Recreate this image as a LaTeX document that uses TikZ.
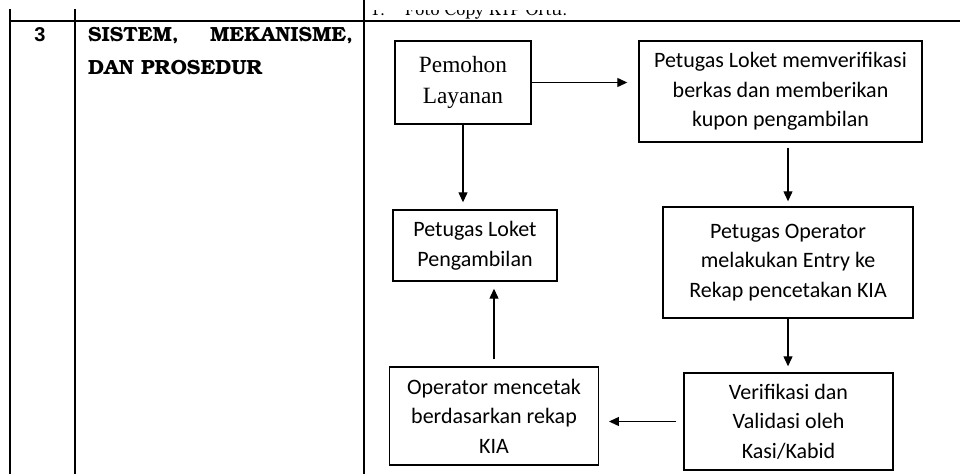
\documentclass[tikz,border=0pt]{standalone}
\usepackage[T1]{fontenc}
\usepackage{fontspec}
\setmainfont{Liberation Serif}
\newfontfamily\calibri{Carlito}
\newfontfamily\arialfont{Liberation Sans}
\newcommand\bookman{\fontencoding{T1}\fontfamily{pbk}\selectfont}
\newcommand\headfont{\bookman\fontseries{b}\selectfont\fontsize{20.5}{24}\selectfont}
\usetikzlibrary{arrows.meta}
\tikzset{
    box/.style={draw, line width=1.4pt, inner sep=0pt, align=center, font=\calibri\fontsize{22}{29.5}\selectfont}, % kotak alur
    flow/.style={-{Triangle[length=10pt, width=9pt]}, line width=1.2pt}, % panah alur
    tabline/.style={line width=1.6pt} % garis tabel
}

\begin{document}
\begin{tikzpicture}[x=1pt, y=-1pt]
    \def\colA{10} \def\colB{75} \def\colC{364} \def\rowtop{20.7}
    \useasboundingbox (0,0) rectangle (960,474);

    % garis tabel
    \draw[tabline] (\colA,\rowtop) -- (960,\rowtop);
    \draw[tabline] (\colA,9) -- (\colA,474);
    \draw[tabline] (\colB,9) -- (\colB,474);
    \draw[tabline] (\colC,0) -- (\colC,474);

    % baris sebelumnya, terpotong
    \begin{scope}
        \clip (\colC+2,10) rectangle (960,19);
        \node[anchor=base west, inner sep=0pt, font=\bookman\fontsize{16}{18}\selectfont] (prev) at (370,15) {1.\hspace{20pt}Foto Copy KTP Ortu.};
    \end{scope}

    \node[font=\arialfont\bfseries\fontsize{20}{24}\selectfont] (nomor) at (40,35) {3};
    \node[anchor=base west, inner sep=0pt, font=\headfont] (judul) at (88,41.7) {\makebox[265pt][s]{SISTEM, MEKANISME,}};
    \node[anchor=base west, inner sep=0pt, font=\headfont] (judulb) at (88,74) {DAN PROSEDUR};

    % alur layanan
    \node[box, font=\rmfamily\fontsize{23.3}{31.5}\selectfont, minimum width=136pt, minimum height=83pt] (pemohon) at (463,82.5) {Pemohon\\Layanan};
    \node[box, minimum width=283pt, minimum height=101pt] (verif) at (780.5,91.5) {Petugas Loket memverifikasi\\berkas dan memberikan\\kupon pengambilan};
    \node[box, minimum width=250pt, minimum height=111pt] (entry) at (788,262.5) {Petugas Operator\\melakukan Entry ke\\Rekap pencetakan KIA};
    \node[box, minimum width=209pt, minimum height=97pt] (validasi) at (788.5,421.5) {Verifikasi dan\\Validasi oleh\\Kasi/Kabid};
    \node[box, minimum width=208.5pt, minimum height=98pt] (cetak) at (494,416) {Operator mencetak\\berdasarkan rekap\\KIA};
    \node[box, minimum width=164pt, minimum height=71pt] (ambil) at (475,245.5) {Petugas Loket\\Pengambilan};

    \draw[flow, shorten >=11pt] (pemohon.east) -- (pemohon.east -| verif.west);
    \draw[flow, shorten >=7pt] (pemohon.south) -- (pemohon.south |- ambil.north);
    \draw[flow, shorten <=5pt, shorten >=5pt] (verif.south -| entry.north) -- (entry.north);
    \draw[flow, shorten >=6pt] (entry.south) -- (entry.south |- validasi.north);
    \draw[flow, shorten <=7pt, shorten >=10pt] (validasi.west) -- (validasi.west -| cetak.east);
    \draw[flow, shorten <=7pt, shorten >=7pt] (cetak.north) -- (cetak.north |- ambil.south);
\end{tikzpicture}
\end{document}
